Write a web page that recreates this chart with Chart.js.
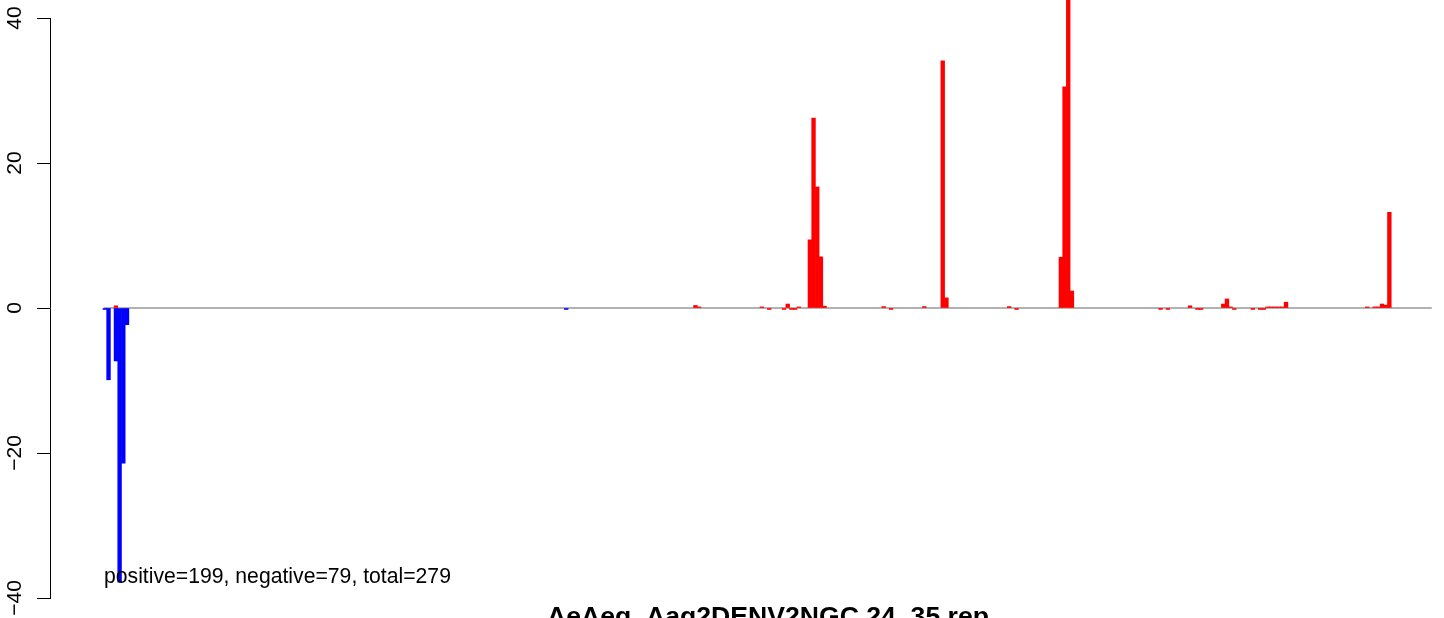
<!DOCTYPE html>
<html>
<head>
<meta charset="utf-8">
<script src="https://cdn.jsdelivr.net/npm/chart.js@4"></script>
<style>
  html, body { margin: 0; padding: 0; background: #fff; overflow: hidden; }
  canvas { display: block; }
</style>
</head>
<body>
<canvas id="myChart" width="1444" height="618"></canvas>
<script>
// positions along the sequence and read-off values
const bluePos = [0, 1, 3, 4, 5, 6, 125];
const blueVal = [-0.2, -9.9, -7.3, -37.8, -21.4, -2.3, -0.2];

const redPos = [3, 160, 161, 178, 180, 184, 185, 186, 187, 188,
    191, 192, 193, 194, 195, 211, 213, 222, 227, 228,
    245, 247, 259, 260, 261, 262, 286, 288, 294, 296,
    297, 303, 304, 305, 306, 311, 313, 314, 315, 316,
    317, 318, 319, 320, 342, 344, 345, 346, 347, 348];
const redVal = [0.3, 0.35, 0.15, 0.15, -0.2, -0.2, 0.55, -0.2, -0.2, 0.15,
    9.4, 26.2, 16.7, 7.05, 0.25, 0.2, -0.2, 0.2, 34.1, 1.4,
    0.2, -0.2, 7.0, 30.5, 46, 2.35, -0.2, -0.2, 0.3, -0.2,
    -0.2, 0.55, 1.25, 0.15, -0.2, -0.2, -0.2, -0.2, 0.15, 0.15,
    0.15, 0.15, 0.15, 0.8, 0.15, 0.15, 0.15, 0.55, 0.4, 13.2];

const baseline = [-0.3, 359.5];
const yTicks = [-40, -20, 0, 20, 40];

const noteText = 'positive=199, negative=79, total=279';
const titleText = 'AeAeg_Aag2DENV2NGC 24_35 rep';

Chart.defaults.font.family = '"Liberation Sans", Arial, Helvetica, sans-serif';
Chart.defaults.color = '#000';

const textPlugin = {
    id: 'rtext',
    afterDraw(chart) {
        const ctx = chart.ctx;
        const x = chart.scales.x;
        ctx.save();
        ctx.fillStyle = '#000';
        ctx.font = '21.2px "Liberation Sans", Arial, sans-serif';
        ctx.textAlign = 'left';
        ctx.textBaseline = 'alphabetic';
        ctx.fillText(noteText, x.getPixelForValue(-0.5) + 1, 583);
        ctx.font = 'bold 26.6px "Liberation Sans", Arial, sans-serif';
        ctx.textAlign = 'center';
        ctx.fillText(titleText, 768, 625);
        ctx.restore();
    }
};

const ctx = document.getElementById('myChart');

new Chart(ctx, {
    type: 'bar',
    data: {
        datasets: [
            {
                type: 'line',
                data: baseline.map(p => ({ x: p, y: 0 })),
                borderColor: '#999999',
                borderWidth: 1.5,
                pointRadius: 0,
                order: 2
            },
            {
                data: redPos.map((p, i) => ({ x: p, y: redVal[i] })),
                backgroundColor: '#ff0000',
                borderWidth: 0,
                barPercentage: 1,
                categoryPercentage: 1,
                clip: false,
                order: 1
            },
            {
                data: bluePos.map((p, i) => ({ x: p, y: blueVal[i] })),
                backgroundColor: '#0000ff',
                borderWidth: 0,
                barPercentage: 1,
                categoryPercentage: 1,
                clip: false,
                order: 1
            }
        ]
    },
    options: {
        responsive: false,
        animation: false,
        devicePixelRatio: 1,
        layout: { padding: { top: 18, bottom: 20, left: 0, right: 0 } },
        plugins: {
            legend: { display: false },
            tooltip: { enabled: false }
        },
        scales: {
            x: {
                type: 'linear',
                min: -14.86,
                max: 362.8,
                offset: false,
                stacked: true,
                display: false
            },
            y: {
                min: yTicks[0],
                max: yTicks[yTicks.length - 1],
                stacked: true,
                border: { display: true, color: '#000', width: 1 },
                grid: { drawOnChartArea: false, drawTicks: true, tickLength: 13, color: '#000' },
                ticks: {
                    stepSize: 20,
                    minRotation: 90,
                    maxRotation: 90,
                    crossAlign: 'center',
                    padding: 4,
                    color: '#000',
                    font: { size: 21 },
                    callback: v => String(v).replace('-', '\u2212')
                },
                afterFit: s => { s.width = 50; }
            }
        }
    },
    plugins: [textPlugin]
});
</script>
</body>
</html>
